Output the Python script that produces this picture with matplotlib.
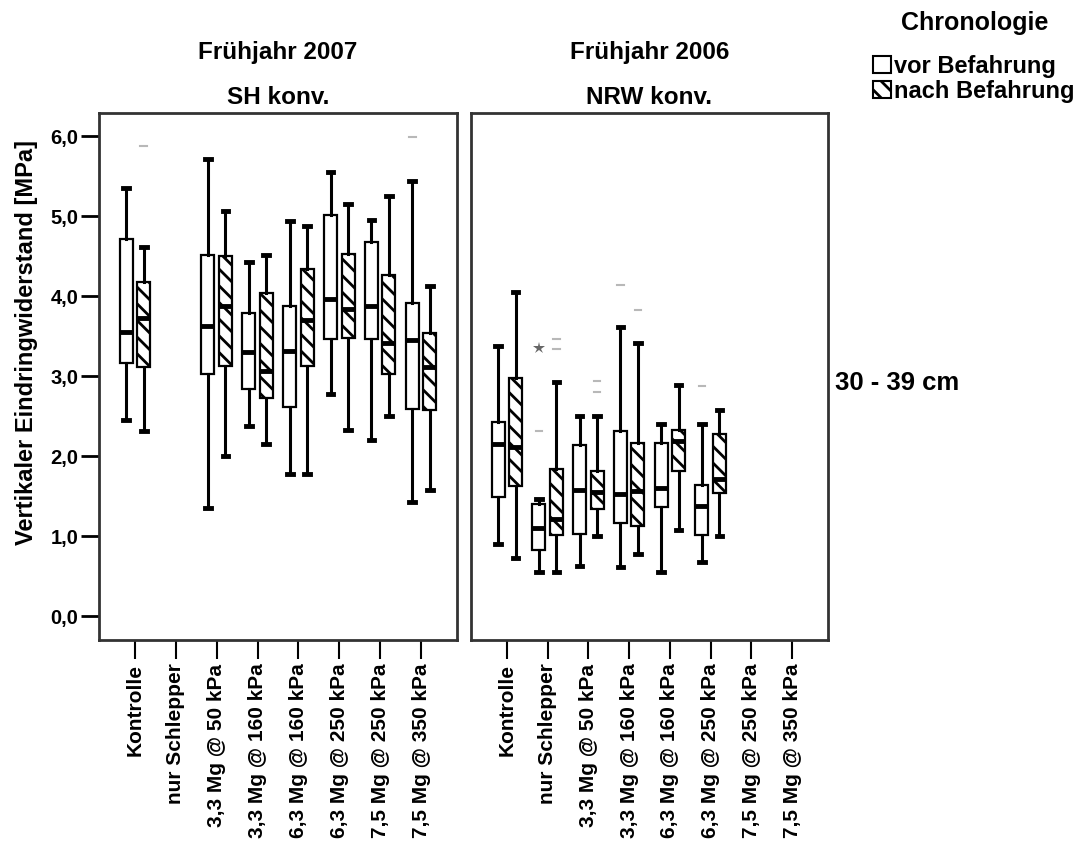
import matplotlib
matplotlib.use("Agg")
import matplotlib.pyplot as plt
from matplotlib.patches import Patch
import numpy as np

plt.rcParams['font.family'] = ['Liberation Sans', 'DejaVu Sans']
plt.rcParams['font.weight'] = 'bold'
plt.rcParams['hatch.linewidth'] = 2.0

categories = ["Kontrolle", "nur Schlepper", "3,3 Mg @ 50 kPa", "3,3 Mg @ 160 kPa",
              "6,3 Mg @ 160 kPa", "6,3 Mg @ 250 kPa", "7,5 Mg @ 250 kPa", "7,5 Mg @ 350 kPa"]
nan = np.nan

# SH konv., Frühjahr 2007: whisker low, Q1, median, Q3, whisker high
sh_vor_lo  = [2.45, nan, 1.35, 2.38, 1.78, 2.78, 2.20, 1.42]
sh_vor_q1  = [3.16, nan, 3.03, 2.84, 2.61, 3.46, 3.46, 2.59]
sh_vor_med = [3.55, nan, 3.63, 3.30, 3.32, 3.96, 3.88, 3.45]
sh_vor_q3  = [4.71, nan, 4.52, 3.79, 3.88, 5.01, 4.68, 3.91]
sh_vor_hi  = [5.35, nan, 5.71, 4.43, 4.94, 5.55, 4.95, 5.44]

sh_nach_lo  = [2.31, nan, 2.00, 2.15, 1.78, 2.32, 2.50, 1.57]
sh_nach_q1  = [3.11, nan, 3.13, 2.72, 3.13, 3.48, 3.03, 2.58]
sh_nach_med = [3.73, nan, 3.88, 3.07, 3.70, 3.84, 3.42, 3.11]
sh_nach_q3  = [4.18, nan, 4.50, 4.04, 4.34, 4.53, 4.26, 3.54]
sh_nach_hi  = [4.62, nan, 5.07, 4.52, 4.88, 5.15, 5.25, 4.13]

# NRW konv., Frühjahr 2006
nrw_vor_lo  = [0.90, 0.55, 0.63, 0.61, 0.55, 0.67, nan, nan]
nrw_vor_q1  = [1.49, 0.83, 1.03, 1.16, 1.36, 1.01, nan, nan]
nrw_vor_med = [2.15, 1.10, 1.58, 1.53, 1.60, 1.38, nan, nan]
nrw_vor_q3  = [2.43, 1.40, 2.14, 2.31, 2.16, 1.64, nan, nan]
nrw_vor_hi  = [3.38, 1.46, 2.50, 3.62, 2.40, 2.40, nan, nan]

nrw_nach_lo  = [0.72, 0.55, 1.00, 0.77, 1.08, 1.00, nan, nan]
nrw_nach_q1  = [1.63, 1.01, 1.34, 1.13, 1.81, 1.54, nan, nan]
nrw_nach_med = [2.11, 1.21, 1.55, 1.56, 2.19, 1.71, nan, nan]
nrw_nach_q3  = [2.98, 1.84, 1.81, 2.16, 2.33, 2.28, nan, nan]
nrw_nach_hi  = [4.05, 2.92, 2.50, 3.42, 2.89, 2.57, nan, nan]

# outliers: (category index, group 0=vor 1=nach, value)
sh_outliers = [(0, 1, 5.88), (7, 0, 5.99)]
nrw_outliers = [(1, 0, 2.31), (1, 1, 3.47), (1, 1, 3.34), (2, 1, 2.94), (2, 1, 2.80),
                (3, 0, 4.14), (3, 1, 3.83), (5, 0, 2.88)]
nrw_extremes = [(1, 0, 3.35)]


def make_stats(lo, q1, med, q3, hi):
    stats, idx = [], []
    for i in range(len(lo)):
        if np.isnan(med[i]):
            continue
        stats.append(dict(whislo=lo[i], q1=q1[i], med=med[i], q3=q3[i],
                          whishi=hi[i], fliers=[]))
        idx.append(i)
    return stats, idx


def draw_panel(ax, vor, nach, outliers, extremes, title):
    off, w = 0.215, 0.32
    for g, (data, hatch) in enumerate([(vor, None), (nach, '\\\\')]):
        stats, idx = make_stats(*data)
        pos = [i + (off if g else -off) for i in idx]
        bp = ax.bxp(stats, positions=pos, widths=w, capwidths=0.14, patch_artist=True,
                    showfliers=False, manage_ticks=False,
                    boxprops=dict(facecolor='white', edgecolor='black', linewidth=1.6),
                    medianprops=dict(color='black', linewidth=3.5),
                    whiskerprops=dict(color='black', linewidth=2.2),
                    capprops=dict(color='black', linewidth=3.5))
        if hatch:
            for b in bp['boxes']:
                b.set_hatch(hatch)
    for i, g, v in outliers:
        x = i + (off if g else -off)
        ax.plot([x - 0.08, x + 0.08], [v, v], color='#b8b8b8', lw=1.5)
    for i, g, v in extremes:
        x = i + (off if g else -off)
        ax.plot(x, v, marker='*', color='#666666', ms=9, mew=0)

    ax.set_xlim(-0.88, 7.88)
    ax.set_ylim(-0.3, 6.29)
    ax.set_xticks(range(len(categories)))
    ax.set_xticklabels(categories, rotation=90, fontsize=15, fontweight='bold')
    ax.tick_params(axis='x', length=14, width=1.5, pad=3)
    for s in ax.spines.values():
        s.set_linewidth(2)
        s.set_color('#333333')
    ax.text(0.5, 1.115, title[0], transform=ax.transAxes, ha='center', va='center',
            fontsize=17.5, fontweight='bold')
    ax.text(0.5, 1.03, title[1], transform=ax.transAxes, ha='center', va='center',
            fontsize=17.5, fontweight='bold')


fig = plt.figure(figsize=(10.8, 8.46), dpi=100)
ax1 = fig.add_axes([99 / 1080, 206 / 846, 358 / 1080, 527 / 846])
ax2 = fig.add_axes([471 / 1080, 206 / 846, 357 / 1080, 527 / 846])

draw_panel(ax1,
           (sh_vor_lo, sh_vor_q1, sh_vor_med, sh_vor_q3, sh_vor_hi),
           (sh_nach_lo, sh_nach_q1, sh_nach_med, sh_nach_q3, sh_nach_hi),
           sh_outliers, [], ("Frühjahr 2007", "SH konv."))
draw_panel(ax2,
           (nrw_vor_lo, nrw_vor_q1, nrw_vor_med, nrw_vor_q3, nrw_vor_hi),
           (nrw_nach_lo, nrw_nach_q1, nrw_nach_med, nrw_nach_q3, nrw_nach_hi),
           nrw_outliers, nrw_extremes, ("Frühjahr 2006", "NRW konv."))

ax1.set_yticks(np.arange(0, 6.01, 1.0))
ax1.set_yticklabels(["0,0", "1,0", "2,0", "3,0", "4,0", "5,0", "6,0"],
                    fontsize=14.5, fontweight='bold')
ax1.tick_params(axis='y', length=13, width=2, pad=2)
ax1.set_ylabel("Vertikaler Eindringwiderstand [MPa]", fontsize=17, fontweight='bold')
ax1.yaxis.set_label_coords(-0.17, 0.5636)
ax2.set_yticks([])

fig.text(835 / 1080, 1 - 383 / 846, "30 - 39 cm", ha='left', va='center',
         fontsize=18.5, fontweight='bold')

# legend
fig.text(975 / 1080, 1 - 23 / 846, "Chronologie", ha='center', va='center',
         fontsize=18, fontweight='bold')
handles = [Patch(facecolor='white', edgecolor='black', linewidth=1.5, label='vor Befahrung'),
           Patch(facecolor='white', edgecolor='black', linewidth=1.5, hatch='\\\\',
                 label='nach Befahrung')]
fig.legend(handles=handles, loc='upper left', bbox_to_anchor=(873 / 1080, 1 - 55 / 846),
           frameon=False, fontsize=17, handlelength=0.75, handleheight=0.75,
           handletextpad=0.15, labelspacing=0.08, borderpad=0, borderaxespad=0)

fig.savefig("out.png", dpi=100)
